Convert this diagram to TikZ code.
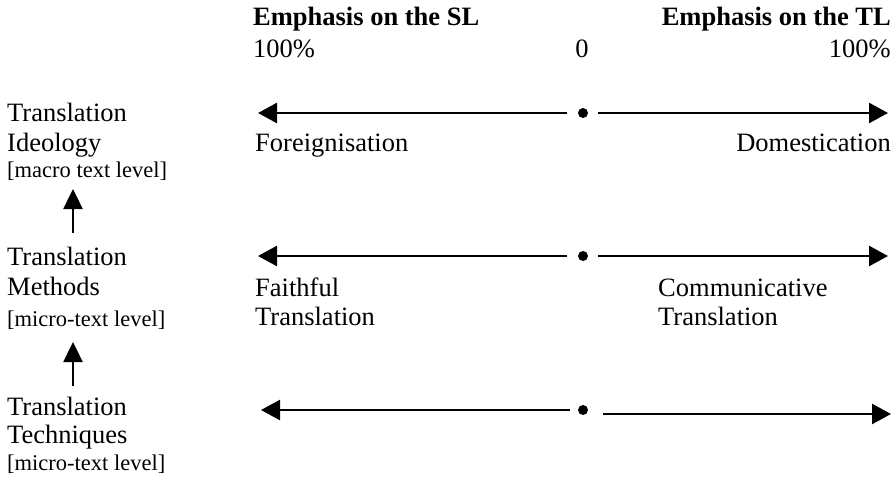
\documentclass[tikz,border=0pt]{standalone}
\usepackage{fontspec}
\setmainfont{Liberation Serif}
\usetikzlibrary{arrows.meta}
\begin{document}
\begin{tikzpicture}[x=1pt,y=-1pt,
  txt/.style={inner sep=0pt, font=\fontsize{26.5}{30}\selectfont},
  hd/.style={inner sep=0pt, font=\fontsize{26.5}{30}\selectfont\bfseries},
  sm/.style={inner sep=0pt, font=\fontsize{22.5}{26}\selectfont},
  axis/.style={line width=2.6pt, -{Triangle[length=19pt,width=20pt]}},
  uparr/.style={line width=2.4pt, -{Triangle[length=20pt,width=19pt]}},
  zdot/.style={circle, fill=black, inner sep=0pt, minimum size=10pt}]
\useasboundingbox (0,0) rectangle (896,481);

% header
\node[hd, anchor=base west] (sl) at (253,26) {Emphasis on the SL};
\node[hd, anchor=base east] (tl) at (891,26) {Emphasis on the TL};
\node[txt, anchor=base west] (p1) at (253,58) {100\%};
\node[txt, anchor=base] (zero) at (582,58) {0};
\node[txt, anchor=base east] (p2) at (891,58) {100\%};

% left labels
\node[txt, anchor=base west] (l1a) at (7,122) {Translation};
\node[txt, anchor=base west] (l1b) at (7,152) {Ideology};
\node[sm, anchor=base west] (l1c) at (7,178) {[macro text level]};
\node[txt, anchor=base west] (l2a) at (7,265) {Translation};
\node[txt, anchor=base west] (l2b) at (7,295) {Methods};
\node[sm, anchor=base west] (l2c) at (7,326) {[micro-text level]};
\node[txt, anchor=base west] (l3a) at (7,415) {Translation};
\node[txt, anchor=base west] (l3b) at (7,443) {Techniques};
\node[sm, anchor=base west] (l3c) at (7,470) {[micro-text level]};

% up arrows
\coordinate (u1b) at (73,233);
\coordinate (u1t) at (73,189);
\coordinate (u2b) at (73,386);
\coordinate (u2t) at (73,342);
\draw[uparr] (u1b) -- (u1t);
\draw[uparr] (u2b) -- (u2t);

% row 1
\node[zdot] (d1) at (583,113) {};
\coordinate (a1l) at (258,113);
\coordinate (a1r) at (888,113);
\draw[axis] ([xshift=-16pt]d1.center) -- (a1l);
\draw[axis] ([xshift=15pt]d1.center) -- (a1r);
\node[txt, anchor=base west] (fo) at (255,152) {Foreignisation};
\node[txt, anchor=base east] (do) at (891,152) {Domestication};

% row 2
\node[zdot] (d2) at (583,256) {};
\coordinate (a2l) at (258,256);
\coordinate (a2r) at (888,256);
\draw[axis] ([xshift=-16pt]d2.center) -- (a2l);
\draw[axis] ([xshift=15pt]d2.center) -- (a2r);
\node[txt, anchor=base west] (fa1) at (255,296) {Faithful};
\node[txt, anchor=base west] (fa2) at (255,325) {Translation};
\node[txt, anchor=base west] (co1) at (658,296) {Communicative};
\node[txt, anchor=base west] (co2) at (658,325) {Translation};

% row 3
\node[zdot] (d3) at (583,410) {};
\coordinate (a3l) at (261,410);
\coordinate (r3s) at (603,414);
\coordinate (a3r) at (891,414);
\draw[axis] ([xshift=-13pt]d3.center) -- (a3l);
\draw[axis] (r3s) -- (a3r);
\end{tikzpicture}
\end{document}
